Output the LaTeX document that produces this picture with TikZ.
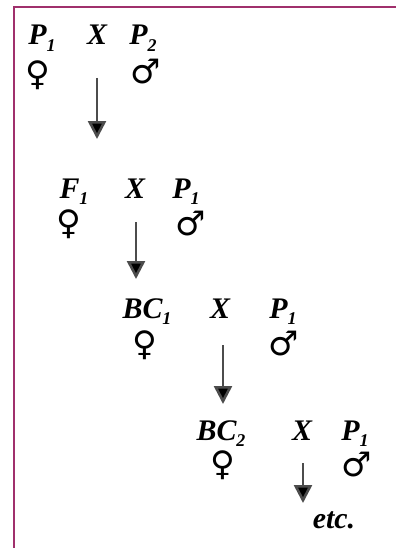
\documentclass[tikz,border=0pt]{standalone}
\usepackage{fontspec}
\setmainfont{Liberation Serif}
\newfontfamily\symfont{DejaVu Sans}
\usetikzlibrary{arrows.meta}

\definecolor{framecol}{RGB}{160,48,108}
\newcommand{\gen}[2]{#1\raisebox{-0.22em}{\fontsize{18}{18}\selectfont #2}}

\begin{document}
\begin{tikzpicture}[x=0.03528cm, y=-0.03528cm,
  every node/.style={inner sep=0pt, outer sep=0pt},
  gentext/.style={anchor=base, font=\fontsize{30}{30}\selectfont\bfseries\itshape},
  sex/.style={font=\symfont\fontsize{34}{34}\selectfont},
  cross/.style={draw=black!70, line width=2.6pt, -{Triangle[width=18pt,length=18pt,fill=black]}}]
  \useasboundingbox (0,0) rectangle (396,548);

  % frame
  \draw[framecol, line width=2.8pt] (396,7) -- (14,7) -- (14,548);

  % P1 x P2
  \node[gentext] (p1) at (42,45) {\gen{P}{1}};
  \node[gentext] (xa) at (97,45) {X};
  \node[gentext] (p2) at (143,45) {\gen{P}{2}};
  \node[sex] (fa) at (38,75) {♀};
  \node[sex] (ma) at (146,72) {♂};
  \coordinate (a1) at (97,78);
  \coordinate (a2) at (97,139);
  \draw[cross] (a1) -- (a2);

  % F1 x P1
  \node[gentext] (f1) at (74,198) {\gen{F}{1}};
  \node[gentext] (xb) at (135,198) {X};
  \node[gentext] (p1b) at (186,198) {\gen{P}{1}};
  \node[sex] (fb) at (69,224) {♀};
  \node[sex] (mb) at (191,224) {♂};
  \coordinate (b1) at (136,222);
  \coordinate (b2) at (136,279);
  \draw[cross] (b1) -- (b2);

  % BC1 x P1
  \node[gentext] (bc1) at (147,318) {\gen{BC}{1}};
  \node[gentext] (xc) at (220,318) {X};
  \node[gentext] (p1c) at (283,318) {\gen{P}{1}};
  \node[sex] (fc) at (145,345) {♀};
  \node[sex] (mc) at (284,344) {♂};
  \coordinate (c1) at (223,345);
  \coordinate (c2) at (223,404);
  \draw[cross] (c1) -- (c2);

  % BC2 x P1
  \node[gentext] (bc2) at (221,440) {\gen{BC}{2}};
  \node[gentext] (xd) at (302,440) {X};
  \node[gentext] (p1d) at (355,440) {\gen{P}{1}};
  \node[sex] (fd) at (223,465) {♀};
  \node[sex] (md) at (357,465) {♂};
  \coordinate (d1) at (303,463);
  \coordinate (d2) at (303,503);
  \draw[cross] (d1) -- (d2);
  \node[gentext] (etc) at (334,528) {etc.};
\end{tikzpicture}
\end{document}
